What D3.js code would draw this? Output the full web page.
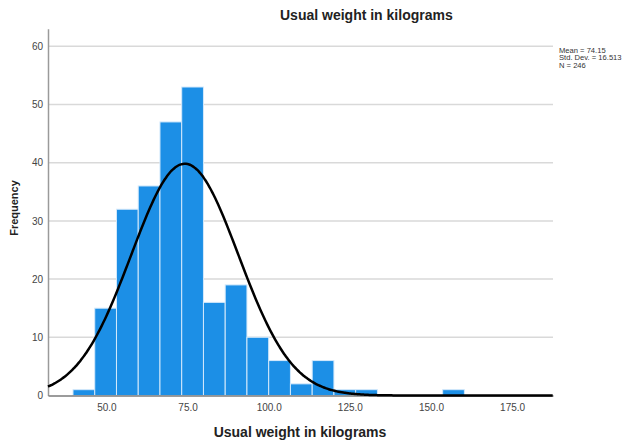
<!DOCTYPE html>
<html>
<head>
<meta charset="utf-8">
<script src="https://cdn.jsdelivr.net/npm/d3@7"></script>
<style>
  html, body { margin: 0; padding: 0; background: #fff; }
  svg { display: block; font-family: Arial, "Liberation Sans", sans-serif; }
</style>
</head>
<body>
<svg id="chart" width="638" height="443"></svg>
<script>
// ---- data ----
const binLower = [39.7, 46.4, 53.1, 59.8, 66.5, 73.2, 79.9, 86.6, 93.3, 100.0, 106.7, 113.4, 120.1, 126.8, 133.5, 140.2, 146.9, 153.6];
const binCounts = [1, 15, 32, 36, 47, 53, 16, 19, 10, 6, 2, 6, 1, 1, 0, 0, 0, 1];
const binWidth = 6.7;
const xTicks = [50, 75, 100, 125, 150, 175];
const yTicks = [0, 10, 20, 30, 40, 50, 60];
const statLines = ["Mean = 74.15", "Std. Dev. = 16.513", "N = 246"];
const mean = 74.15, sd = 16.513, n = 246;
const titleText = "Usual weight in kilograms";
const xLabel = "Usual weight in kilograms";
const yLabel = "Frequency";

const svg = d3.select("#chart");
const x = d3.scaleLinear().domain([32, 187.6]).range([48, 553]);
const y = d3.scaleLinear().domain([0, 63]).range([395.5, 28.8]);

// gridlines
svg.append("g").selectAll("line").data(yTicks.filter(d => d > 0)).join("line")
  .attr("x1", x.range()[0]).attr("x2", x.range()[1])
  .attr("y1", d => y(d)).attr("y2", d => y(d))
  .attr("stroke", "#d9d9d9").attr("stroke-width", 1.5);

// bars
const bins = binLower.map((b, i) => ({x0: b, x1: b + binWidth, c: binCounts[i]})).filter(d => d.c > 0);
svg.append("g").selectAll("rect").data(bins).join("rect")
  .attr("x", d => x(d.x0)).attr("width", d => x(d.x1) - x(d.x0))
  .attr("y", d => y(d.c)).attr("height", d => y(0) - y(d.c))
  .attr("fill", "#1c8fe6").attr("stroke", "#d4e9fb").attr("stroke-width", 1);

// axes
const yAxis = d3.axisLeft(y).tickValues(yTicks).tickSize(0).tickPadding(5);
const gy = svg.append("g").attr("transform", `translate(${x.range()[0]},0)`).call(yAxis);
gy.select(".domain").attr("stroke", "#9a9a9a").attr("stroke-width", 1.5);
gy.selectAll("text").attr("font-size", 10).attr("fill", "#444").attr("font-family", "Arial, 'Liberation Sans', sans-serif");

const xAxis = d3.axisBottom(x).tickValues(xTicks).tickFormat(d3.format(".1f")).tickSize(0).tickPadding(8);
const gx = svg.append("g").attr("transform", `translate(0,${y(0)})`).call(xAxis);
gx.select(".domain").attr("stroke", "#7a7a7a").attr("stroke-width", 1.5);
gx.selectAll("text").attr("font-size", 10).attr("fill", "#444").attr("font-family", "Arial, 'Liberation Sans', sans-serif");

// normal curve
const pts = d3.range(x.domain()[0], x.domain()[1] + 0.01, 0.5).map(v => {
  const z = (v - mean) / sd;
  return [v, n * binWidth * Math.exp(-0.5 * z * z) / (sd * Math.sqrt(2 * Math.PI))];
});
svg.append("path").datum(pts)
  .attr("d", d3.line().x(d => x(d[0])).y(d => y(d[1])).curve(d3.curveBasis))
  .attr("fill", "none").attr("stroke", "#000").attr("stroke-width", 2.5);

// titles
svg.append("text").attr("x", 280).attr("y", 20).attr("font-size", 14).attr("font-weight", "bold")
  .attr("fill", "#222").text(titleText);
svg.append("text").attr("x", 300).attr("y", 437).attr("text-anchor", "middle").attr("font-size", 14)
  .attr("font-weight", "bold").attr("fill", "#222").text(xLabel);
svg.append("text").attr("transform", "translate(18,208) rotate(-90)").attr("text-anchor", "middle")
  .attr("font-size", 11).attr("font-weight", "bold").attr("fill", "#222").text(yLabel);

// stats
svg.append("g").selectAll("text").data(statLines).join("text")
  .attr("x", 559).attr("y", (d, i) => 52.5 + i * 7.6)
  .attr("font-size", 7.6).attr("fill", "#333").text(d => d);
</script>
</body>
</html>
